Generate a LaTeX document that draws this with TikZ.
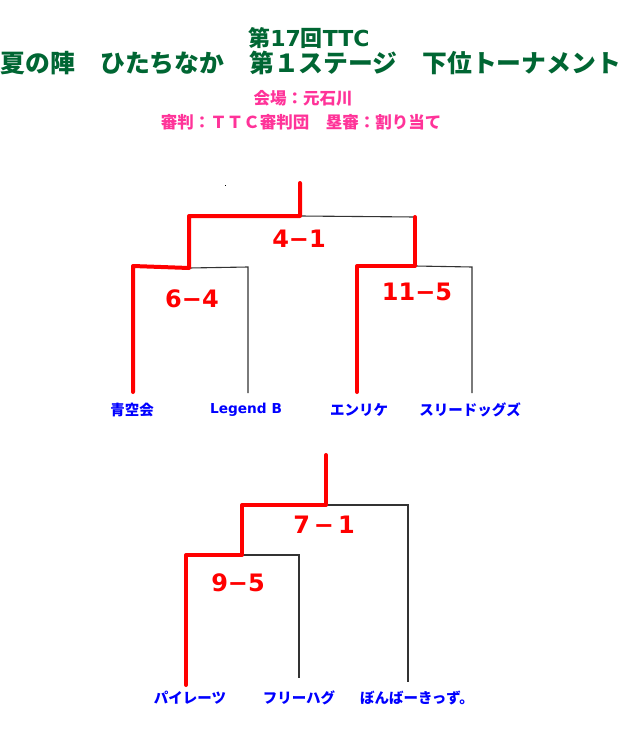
\documentclass[tikz,border=0pt]{standalone}
\usepackage{fontspec}
\usepackage{graphicx}
\setmainfont{DejaVu Sans}
\newfontfamily\jp{Noto Sans CJK JP}
\definecolor{titlegreen}{RGB}{0,102,51}
\definecolor{infopink}{RGB}{255,51,153}
\definecolor{teamblue}{RGB}{0,0,255}
\definecolor{linegray}{RGB}{51,51,51}
\begin{document}
\begin{tikzpicture}[x=1pt,y=-1pt,
  win/.style={draw=red, line width=4pt, line join=round, line cap=round},
  lose/.style={draw=linegray, line width=1.1pt},
  team/.style={text=teamblue, font=\jp\bfseries\fontsize{14.5}{16}\selectfont, inner sep=0pt},
  teamlat/.style={text=teamblue, font=\bfseries\fontsize{13.7}{16}\selectfont, inner sep=0pt},
  score/.style={text=red, font=\bfseries\fontsize{24}{28}\selectfont, inner sep=0pt},
  title/.style={text=titlegreen, font=\bfseries, inner sep=0pt},
  info/.style={text=infopink, font=\jp\bfseries\fontsize{16.5}{18}\selectfont, inner sep=0pt}]
\useasboundingbox[fill=white] (0,0) rectangle (624,738);

% titles
\node[title] (t1) at (309,38) {\fontsize{22}{24}\selectfont{\jp 第}17{\jp 回}TTC};
\node[title] (t2) at (311,63) {\resizebox{620pt}{!}{\jp\fontsize{24}{26}\selectfont 夏の陣　ひたちなか　第１ステージ　下位トーナメント}};
\node[info] (i1) at (303,98) {会場：元石川};
\node[info] (i2) at (301,122) {審判：ＴＴＣ審判団　塁審：割り当て};

% stray mark
\fill[black] (224.5,184.5) rectangle (226,185.5);

% ---------- upper bracket ----------
\node[team] (aozora) at (132,410) {青空会};
\node[teamlat] (legend) at (246,410) {Legend B};
\node[team] (enrike) at (359,410) {エンリケ};
\node[team] (three) at (470,410) {スリードッグズ};

\coordinate (a0) at (133,392);
\coordinate (a1) at (133,266);
\coordinate (a2) at (189,268);
\coordinate (a3) at (189,216);
\coordinate (a4) at (300,216);
\coordinate (a5) at (300,183);
\coordinate (b0) at (248,393);
\coordinate (b1) at (248,267);
\coordinate (c0) at (357,392);
\coordinate (c1) at (357,266);
\coordinate (c2) at (415,266);
\coordinate (c3) at (415,217);
\coordinate (d0) at (472,393);
\coordinate (d1) at (472,267);

\draw[lose] (a2) -- (b1) -- (b0);
\draw[lose] (c2) -- (d1) -- (d0);
\draw[lose] (a4) -- (c3);
\draw[win] (a0) -- (a1) -- (a2) -- (a3) -- (a4) -- (a5);
\draw[win] (c0) -- (c1) -- (c2) -- (c3);

\node[score] (s41) at (299,239) {4−1};
\node[score] (s64) at (192,299) {6−4};
\node[score] (s115) at (417,292) {11−5};

% ---------- lower bracket ----------
\node[team] (pirates) at (190,698) {パイレーツ};
\node[team] (freehug) at (299,698) {フリーハグ};
\node[team] (bomba) at (417,698) {ぼんばーきっず。};

\coordinate (e0) at (186,685);
\coordinate (e1) at (186,555);
\coordinate (e2) at (242,555);
\coordinate (e3) at (242,505);
\coordinate (e4) at (326,505);
\coordinate (e5) at (326,455);
\coordinate (f0) at (299,678);
\coordinate (f1) at (299,555);
\coordinate (g0) at (408,682);
\coordinate (g1) at (408,505);

\draw[lose] (e2) -- (f1) -- (f0);
\draw[lose] (e4) -- (g1) -- (g0);
\draw[win] (e0) -- (e1) -- (e2) -- (e3) -- (e4) -- (e5);

\node[score] (s71) at (324,525) {7\hspace{4pt}−\hspace{4pt}1};
\node[score] (s95) at (238,583) {9−5};
\end{tikzpicture}
\end{document}
